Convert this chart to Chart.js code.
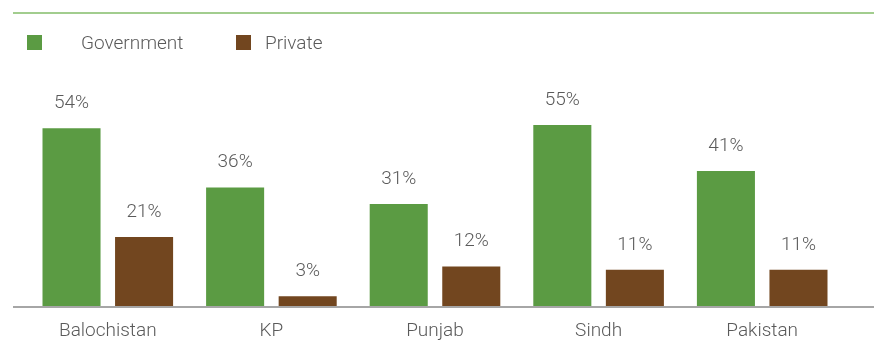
<!DOCTYPE html>
<html lang="en">
<head>
<meta charset="UTF-8">
<title>Government vs Private</title>
<script src="https://cdn.jsdelivr.net/npm/chart.js"></script>
<style>
  html, body { margin: 0; padding: 0; background: #fff; }
  #wrap { position: relative; width: 874px; height: 340px; overflow: hidden; }
  #grafico { position: absolute; left: 0; top: 0; }
  #rule { position: absolute; left: 13px; right: 0; top: 12px; height: 2px; background: #a2cd8e; }
  #legend { position: absolute; left: 0; top: 31px; font: 300 19px Roboto, sans-serif; color: #5a5a5a; }
  #legend span.item { position: absolute; white-space: nowrap; top: 0; line-height: 23px; }
  #legend i { display: inline-block; width: 15px; height: 15px; vertical-align: -1px; }
  #legend b { font-weight: 300; position: absolute; top: 0; }
</style>
</head>
<body>
<div id="wrap">
  <canvas id="grafico" width="874" height="340"></canvas>
  <div id="rule"></div>
  <div id="legend"></div>
</div>
<script>
  const regioes = ["Balochistan", "KP", "Punjab", "Sindh", "Pakistan"];
  const governo = [54, 36, 31, 55, 41];
  const privado = [21, 3, 12, 11, 11];
  const series = ["Government", "Private"];
  const cores = ["#5b9b43", "#72461f"];

  // legenda em html (quadrado + texto)
  const legenda = document.getElementById("legend");
  const posLegenda = [27, 236];
  series.forEach(function (nome, i) {
    const s = document.createElement("span");
    s.className = "item";
    s.style.left = posLegenda[i] + "px";
    s.innerHTML = '<i style="background:' + cores[i] + '"></i><b style="left:' + (i == 0 ? 54 : 29) + 'px">' + nome + '</b>';
    legenda.appendChild(s);
  });

  // rótulos de valor acima das barras + linha de base
  const rotulos = {
    id: "rotulos",
    afterDatasetsDraw(chart) {
      const ctx = chart.ctx;
      const base = chart.scales.y.getPixelForValue(0);
      ctx.save();
      ctx.strokeStyle = "#a6a6a6";
      ctx.lineWidth = 2;
      ctx.beginPath();
      ctx.moveTo(13, base + 1);
      ctx.lineTo(874, base + 1);
      ctx.stroke();

      ctx.font = "300 19px Roboto, sans-serif";
      ctx.fillStyle = "#5a5a5a";
      ctx.textAlign = "center";
      ctx.textBaseline = "middle";
      chart.data.datasets.forEach(function (ds, i) {
        chart.getDatasetMeta(i).data.forEach(function (bar, j) {
          ctx.fillText(ds.data[j] + "%", bar.x, bar.y - 25);
        });
      });
      ctx.restore();
    }
  };

  new Chart(document.getElementById("grafico"), {
    type: "bar",
    data: {
      labels: regioes,
      datasets: [
        { label: series[0], data: governo, backgroundColor: cores[0] },
        { label: series[1], data: privado, backgroundColor: cores[1] }
      ]
    },
    options: {
      responsive: false,
      animation: false,
      categoryPercentage: 0.887,
      barPercentage: 0.8,
      layout: { padding: { top: 108.6, left: 26, right: 30, bottom: 0 } },
      plugins: { legend: { display: false }, tooltip: { enabled: false } },
      scales: {
        x: {
          grid: { display: false, drawTicks: false },
          border: { display: false },
          afterFit: function (scale) { scale.height = 34; },
          ticks: {
            padding: 14,
            color: "#5a5a5a",
            maxRotation: 0,
            autoSkip: false,
            font: { family: "Roboto, sans-serif", size: 19, weight: 300 }
          }
        },
        y: { display: false, min: 0, max: 60 }
      }
    },
    plugins: [rotulos]
  });
</script>
</body>
</html>
